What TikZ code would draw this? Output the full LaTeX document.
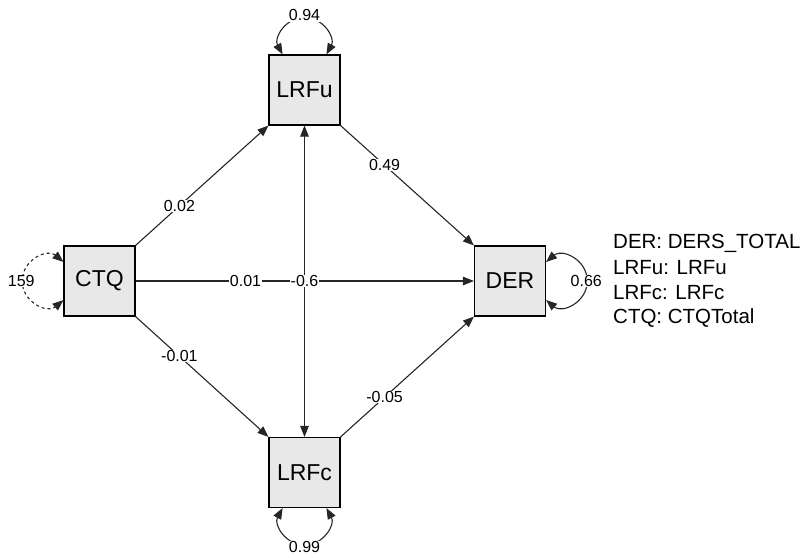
\documentclass[tikz,border=0pt]{standalone}
\usepackage{fontspec}
\setmainfont{Liberation Sans}
\usetikzlibrary{arrows.meta,calc}
\begin{document}
\begin{tikzpicture}[x=1pt,y=-1pt,
  var/.style={draw=black,line width=1.1pt,fill=gray!18,minimum width=71pt,minimum height=70pt,inner sep=0pt,font=\fontsize{23}{26}\selectfont},
  path/.style={draw=black!85,line width=1.1pt,-{Triangle[length=11pt,width=8.5pt]}},
  bpath/.style={draw=black!85,line width=1.1pt,{Triangle[length=11pt,width=8.5pt]}-{Triangle[length=11pt,width=8.5pt]}},
  lab/.style={fill=white,inner sep=0.5pt,font=\fontsize{16}{18}\selectfont},
  leg/.style={anchor=west,inner sep=0pt,font=\fontsize{20.5}{22}\selectfont}]
\useasboundingbox (0,0) rectangle (805,557);
\node[var] (ctq) at (99.5,281) {CTQ};
\node[var] (lrfu) at (304.5,90) {LRFu};
\node[var] (lrfc) at (304.5,472.5) {LRFc};
\node[var] (der) at (510,281) {DER};
% edges
\draw[path] (ctq.north east) -- node[lab,pos=0.33] {0.02} (lrfu.south west);
\draw[path] (lrfu.south east) -- node[lab,pos=0.33] {0.49} (der.north west);
\draw[path] (ctq.south east) -- node[lab,pos=0.33] {-0.01} (lrfc.north west);
\draw[path] (lrfc.north east) -- node[lab,pos=0.33] {-0.05} (der.south west);
\draw[path] (ctq.east) -- node[lab,pos=0.325] {0.01} (der.west);
\draw[bpath] (lrfu.south) -- node[lab,pos=0.5] {-0.6} (lrfc.north);
% self loops
\coordinate (uA) at ($(lrfu.north)+(0,-37)$);
\coordinate (cA) at ($(lrfc.south)+(0,37)$);
\coordinate (qA) at ($(ctq.west)+(-41.2,0)$);
\coordinate (dA) at ($(der.east)+(41.2,0)$);
\draw[bpath] ($(lrfu.north)+(-21.9,0)$) .. controls +(-9.1,-16.6) and +(-19,0) .. (uA)
   .. controls +(19,0) and +(9.1,-16.6) .. ($(lrfu.north)+(21.9,0)$);
\draw[bpath] ($(lrfc.south)+(-21.9,0)$) .. controls +(-9.1,16.6) and +(-19,0) .. (cA)
   .. controls +(19,0) and +(9.1,16.6) .. ($(lrfc.south)+(21.9,0)$);
\draw[bpath,dashed] ($(ctq.west)+(0,-19)$) .. controls +(-16.2,-13.8) and +(0,-21.3) .. (qA)
   .. controls +(0,21.3) and +(-16.2,13.8) .. ($(ctq.west)+(0,19)$);
\draw[bpath] ($(der.east)+(0,-19)$) .. controls +(16.2,-13.8) and +(0,-21.3) .. (dA)
   .. controls +(0,21.3) and +(16.2,13.8) .. ($(der.east)+(0,19)$);
\node[lab] (l094) at ($(uA)+(0,-2)$) {0.94};
\node[lab] (l099) at ($(cA)+(0,2)$) {0.99};
\node[lab] (l159) at ($(qA)+(-1,0)$) {159};
\node[lab] (l066) at ($(dA)+(-1,0)$) {0.66};
% legend
\node[leg] (l1) at (613,243) {DER: DERS\_TOTAL};
\node[leg] (l2) at (613,268) {LRFu: LRFu};
\node[leg] (l3) at (613,293) {LRFc: LRFc};
\node[leg] (l4) at (613,318) {CTQ: CTQTotal};
\end{tikzpicture}
\end{document}
